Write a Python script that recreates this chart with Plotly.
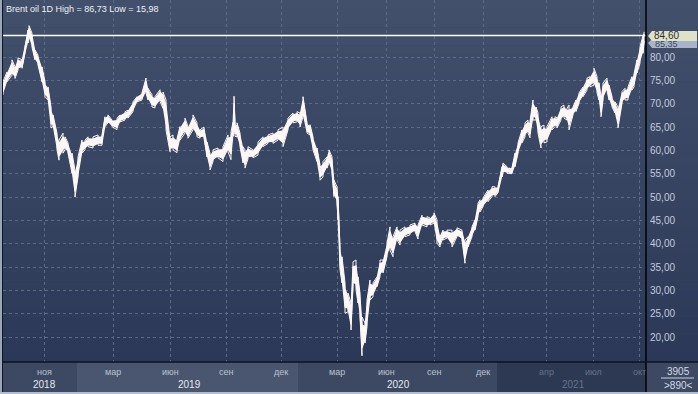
import plotly.graph_objects as go

# ---------------- data (bar index, daily low / high) ----------------
bar = [0, 4, 9, 12, 15, 19, 22, 25, 26, 29, 32, 35, 39, 42, 45, 48, 50, 54, 56, 60, 62, 65, 69, 72, 75,
       79, 82, 85, 90, 95, 99, 102, 105, 109, 114, 117, 122, 125, 130, 134, 139, 143, 145, 149, 152, 157,
       160, 163, 167, 170, 174, 177, 182, 185, 190, 194, 197, 201, 204, 207, 210, 215, 220, 225, 228, 230,
       231, 232, 234, 237, 240, 242, 245, 250, 255, 260, 265, 270, 275, 280, 285, 290, 294, 297, 300, 304,
       307, 310, 314, 317, 320, 324, 326, 329, 331, 334, 335, 337, 339, 342, 345, 348, 350, 353, 355, 357,
       359, 362, 364, 367, 370, 374, 377, 380, 384, 387, 390, 394, 397, 402, 407, 412, 415, 419, 424, 427,
       431, 434, 437, 440, 444, 449, 454, 459, 462, 465, 469, 472, 475, 477, 480, 485, 489, 492, 495, 499,
       500, 504, 509, 512, 515, 519, 522, 525, 527, 530, 533, 535, 538, 541, 544, 549, 552, 554, 558, 561,
       564, 566, 570, 573, 576, 580, 584, 587, 591, 594, 596, 598, 600, 604, 606, 609, 612, 615, 619, 622,
       625, 629, 631, 634, 637, 640, 641]
low = [71.9, 74.7, 76.1, 75.4, 77.2, 77.6, 80.8, 83.0, 84.0, 82.1, 79.4, 78.3, 74.7, 71.5, 70.8, 64.8, 65.1,
       60.1, 57.9, 59.4, 60.1, 59.4, 55.1, 50.0, 54.3, 59.4, 60.1, 60.8, 60.5, 61.1, 61.1, 65.1, 65.9, 65.1,
       64.4, 66.1, 66.5, 66.9, 68.3, 70.4, 70.8, 72.3, 70.8, 69.3, 69.1, 70.5, 69.0, 64.4, 59.7, 60.1, 59.5,
       62.2, 63.7, 62.6, 64.4, 62.9, 62.6, 62.6, 58.6, 55.8, 57.6, 58.4, 57.6, 59.7, 58.0, 63.0, 64.0, 63.0,
       62.9, 60.8, 57.3, 56.2, 58.2, 58.4, 59.0, 60.8, 61.5, 61.5, 62.2, 60.8, 64.4, 65.9, 66.1, 65.0, 67.2,
       63.7, 63.3, 60.1, 57.6, 53.6, 54.3, 56.2, 57.3, 55.1, 50.1, 48.7, 45.1, 34.4, 31.6, 25.1, 25.4, 21.5,
       30.8, 30.1, 27.3, 24.3, 15.98, 18.7, 22.2, 27.9, 28.6, 30.8, 32.9, 33.7, 37.2, 38.6, 37.2, 40.8, 39.7,
       41.5, 41.9, 42.6, 41.0, 44.0, 43.6, 44.0, 44.4, 40.1, 39.3, 40.8, 41.2, 39.3, 41.5, 40.8, 35.8, 39.3,
       41.5, 42.9, 45.8, 46.8, 47.9, 49.0, 50.1, 50.1, 50.9, 54.3, 55.1, 55.1, 55.0, 56.5, 59.4, 61.6, 62.9,
       63.7, 62.7, 66.5, 66.5, 63.7, 60.5, 61.6, 61.8, 64.4, 65.1, 64.8, 66.5, 66.9, 66.5, 64.4, 67.6, 68.3,
       70.1, 71.5, 72.9, 73.6, 74.0, 72.3, 70.8, 67.2, 70.8, 72.9, 70.8, 69.3, 68.0, 64.8, 70.1, 70.8, 70.8,
       72.9, 73.6, 76.6, 78.7, 80.8, 83.0]
high = [74.7, 76.8, 79.4, 77.9, 79.8, 79.4, 82.2, 85.8, 86.73, 85.1, 81.5, 80.4, 77.9, 74.7, 73.6, 69.3, 67.6,
        63.7, 62.2, 63.7, 62.9, 61.6, 59.4, 55.8, 58.6, 62.2, 62.2, 62.9, 62.9, 63.3, 63.3, 67.2, 67.6, 66.5,
        66.9, 67.6, 68.3, 68.6, 70.4, 71.5, 72.3, 75.5, 73.3, 71.9, 71.5, 73.0, 72.5, 70.8, 62.9, 63.3, 62.5,
        65.1, 66.9, 65.1, 67.6, 65.9, 64.4, 65.0, 61.8, 59.4, 60.1, 60.5, 60.8, 63.3, 64.0, 66.0, 71.6, 66.0,
        65.9, 63.7, 60.8, 60.1, 60.8, 60.1, 61.8, 62.9, 63.3, 63.7, 64.4, 65.0, 66.9, 68.0, 68.3, 68.0, 71.5,
        65.9, 65.5, 62.9, 60.5, 56.9, 57.6, 58.6, 60.1, 58.6, 53.6, 52.2, 50.1, 39.3, 37.2, 31.6, 29.4, 27.3,
        36.1, 36.5, 32.9, 29.4, 24.3, 23.0, 27.9, 32.2, 31.6, 32.9, 36.5, 36.5, 40.1, 43.6, 41.5, 43.6, 42.9,
        43.6, 44.0, 44.4, 44.0, 46.1, 45.8, 45.5, 46.6, 45.1, 41.5, 42.9, 42.9, 42.9, 43.4, 42.9, 40.8, 41.5,
        43.6, 45.1, 48.7, 49.4, 49.8, 51.5, 52.2, 52.2, 52.2, 56.5, 57.3, 56.5, 56.3, 59.4, 61.6, 64.4, 65.9,
        66.5, 66.2, 70.8, 69.3, 68.0, 65.1, 65.4, 65.1, 67.2, 67.2, 67.0, 69.3, 69.7, 69.0, 69.7, 69.3, 70.8,
        72.3, 73.6, 75.5, 75.8, 77.6, 75.8, 74.5, 71.5, 74.4, 75.5, 74.0, 71.5, 70.4, 69.3, 72.6, 73.3, 73.6,
        75.8, 76.4, 79.4, 82.2, 84.6, 85.4]
last_close = 84.60
prev_level = "85,35"
month_bar = [41, 110, 167, 223, 278, 334, 383, 431, 480, 543, 590, 636]
month_lbl = ["ноя", "мар", "июн", "сен", "дек", "мар", "июн", "сен", "дек", "апр", "июл", "окт"]
year_bar = [41, 186, 395, 570]
year_lbl = ["2018", "2019", "2020", "2021"]
y_ticks = [20, 25, 30, 35, 40, 45, 50, 55, 60, 65, 70, 75, 80]
title_text = "Brent oil 1D High = 86,73 Low = 15,98"
counter_top = "3905"
counter_bottom = ">890<"

# ---------------- layout helpers ----------------
W, H = 698, 394
L, R, T, B = 3, 646, 0, 362
FONT = "Liberation Sans"
BARC = "#fdf8f6"


def px(x):
    return (x - L) / (R - L)


def py(y):
    return (B - y) / (B - T)


fig = go.Figure()
# solid body of the bar cloud
body_lo = [a + 0.2 * (c - a) for a, c in zip(low, high)]
body_hi = [c - 0.2 * (c - a) for a, c in zip(low, high)]
fig.add_trace(go.Scatter(x=bar, y=body_lo, mode="lines", line=dict(color=BARC, width=1.2),
                         hoverinfo="skip", showlegend=False))
fig.add_trace(go.Scatter(x=bar, y=body_hi, mode="lines", line=dict(color=BARC, width=1.2),
                         fill="tonexty", fillcolor=BARC, hoverinfo="skip", showlegend=False))
# individual low->high strokes (zig-zag)
zx, zy = [], []
for i, b in enumerate(bar):
    zx += [b, b]
    zy += [low[i], high[i]] if i % 2 == 0 else [high[i], low[i]]
fig.add_trace(go.Scatter(x=zx, y=zy, mode="lines", line=dict(color=BARC, width=1.0),
                         hoverinfo="skip", showlegend=False))

shapes = []
# gradient background (plot + right axis panel)
top_c = (66, 80, 108)
bot_c = (43, 56, 87)
N = 40
for i in range(N):
    f = i / (N - 1)
    c = tuple(int(round(top_c[k] + (bot_c[k] - top_c[k]) * f)) for k in range(3))
    y0 = T + (B - T) * i / N
    y1 = T + (B - T) * (i + 1) / N
    shapes.append(dict(type="rect", xref="paper", yref="paper", x0=px(0), x1=px(W), y0=py(y1), y1=py(y0),
                       fillcolor="rgb(%d,%d,%d)" % c, line=dict(width=0), layer="below"))
# bottom axis panel
shapes.append(dict(type="rect", xref="paper", yref="paper", x0=px(0), x1=px(W), y0=py(H), y1=py(B),
                   fillcolor="#3d4962", line=dict(width=0), layer="below"))
shapes.append(dict(type="rect", xref="paper", yref="paper", x0=px(77), x1=px(298), y0=py(392), y1=py(B),
                   fillcolor="#4a566f", line=dict(width=0), layer="below"))
shapes.append(dict(type="rect", xref="paper", yref="paper", x0=px(497), x1=px(R), y0=py(392), y1=py(B),
                   fillcolor="#2d3952", line=dict(width=0), layer="below"))
# last price line
shapes.append(dict(type="line", xref="paper", yref="y", x0=0, x1=1, y0=last_close, y1=last_close,
                   line=dict(color="#ffffff", width=1.5), layer="above"))
# separators
shapes.append(dict(type="line", xref="paper", yref="paper", x0=1, x1=1, y0=py(H), y1=py(0),
                   line=dict(color="#000000", width=1.5), layer="above"))
shapes.append(dict(type="line", xref="paper", yref="paper", x0=px(0), x1=px(W), y0=0, y1=0,
                   line=dict(color="#0d1220", width=1.5), layer="above"))
shapes.append(dict(type="line", xref="paper", yref="paper", x0=px(1), x1=px(1), y0=py(H), y1=py(0),
                   line=dict(color="#9aa6ba", width=2), layer="above"))
shapes.append(dict(type="line", xref="paper", yref="paper", x0=px(2.5), x1=px(2.5), y0=py(H), y1=py(0),
                   line=dict(color="#10151f", width=1), layer="above"))
shapes.append(dict(type="line", xref="paper", yref="paper", x0=px(0), x1=px(W), y0=py(393), y1=py(393),
                   line=dict(color="#b4bdca", width=2), layer="above"))
# counter box divider
shapes.append(dict(type="line", xref="paper", yref="paper", x0=px(661), x1=px(694), y0=py(378), y1=py(378),
                   line=dict(color="#c8d0de", width=1), layer="above"))
# price label boxes
shapes.append(dict(type="path", xref="paper", yref="paper",
                   path="M %f,%f L %f,%f L %f,%f L %f,%f L %f,%f Z" % (
                       px(648), py(43), px(652), py(39), px(697), py(39), px(697), py(48), px(652), py(48)),
                   fillcolor="#a9b4c8", line=dict(width=0), layer="above"))
shapes.append(dict(type="path", xref="paper", yref="paper",
                   path="M %f,%f L %f,%f L %f,%f L %f,%f L %f,%f Z" % (
                       px(648), py(36), px(652), py(31), px(697), py(31), px(697), py(41), px(652), py(41)),
                   fillcolor="#dfe2c6", line=dict(width=0), layer="above"))

ann = []
ann.append(dict(text=title_text, xref="paper", yref="paper", x=px(4), y=py(9), xanchor="left",
                yanchor="middle", showarrow=False, font=dict(family=FONT, size=9, color="#eef1f6")))
for b, t in zip(month_bar, month_lbl):
    col = "#65718b" if b >= 497 - L else "#b9c2d3"
    ann.append(dict(text=t, xref="x", yref="paper", x=b, y=py(372), xanchor="center", yanchor="middle",
                    showarrow=False, font=dict(family=FONT, size=9, color=col)))
for b, t in zip(year_bar, year_lbl):
    col = "#65718b" if b >= 497 - L else "#e4e8ef"
    ann.append(dict(text=t, xref="x", yref="paper", x=b, y=py(384), xanchor="center", yanchor="middle",
                    showarrow=False, font=dict(family=FONT, size=10, color=col)))
ann.append(dict(text=counter_top, xref="paper", yref="paper", x=px(678), y=py(371), xanchor="center",
                yanchor="middle", showarrow=False, font=dict(family=FONT, size=10, color="#d4dae6")))
ann.append(dict(text=counter_bottom, xref="paper", yref="paper", x=px(678), y=py(385), xanchor="center",
                yanchor="middle", showarrow=False, font=dict(family=FONT, size=10, color="#d4dae6")))
ann.append(dict(text=prev_level, xref="paper", yref="paper", x=px(653), y=py(44), xanchor="left",
                yanchor="middle", showarrow=False, font=dict(family=FONT, size=9, color="#3a4660")))
ann.append(dict(text=("%.2f" % last_close).replace(".", ","), xref="paper", yref="y", x=px(652),
                y=last_close, xanchor="left", yanchor="middle", showarrow=False,
                font=dict(family=FONT, size=10, color="#2a2f3a")))

v_per_px = 5 / 23.33
fig.update_layout(
    width=W, height=H,
    margin=dict(l=L, r=W - R, t=T, b=H - B, pad=0),
    paper_bgcolor="#3d4962", plot_bgcolor="rgba(0,0,0,0)",
    separators=", ",
    showlegend=False,
    shapes=shapes, annotations=ann,
    xaxis=dict(range=[0, R - L], showticklabels=False, ticks="", tickvals=month_bar,
               showgrid=True, gridcolor="#5d6a84", griddash="3px,3px", gridwidth=1,
               zeroline=False, showline=False, fixedrange=True),
    yaxis=dict(range=[20 - (B - 337) * v_per_px, 20 + (337 - T) * v_per_px], side="right",
               tickvals=y_ticks, tickformat=".2f", ticks="", ticklabelstandoff=3,
               tickfont=dict(family=FONT, size=10, color="#c3cbdc"),
               showgrid=True, gridcolor="#5d6a84", griddash="3px,3px", gridwidth=1,
               zeroline=False, showline=False, fixedrange=True),
)
fig.write_html("out.html", config={"displayModeBar": False},
               post_script="document.body.style.margin='0px';document.body.style.overflow='hidden';")
